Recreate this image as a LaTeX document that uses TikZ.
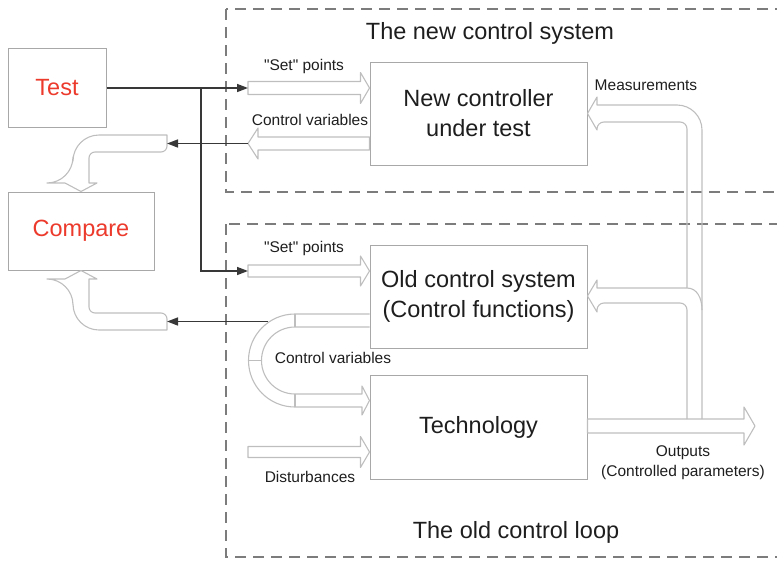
\documentclass[tikz,border=0pt]{standalone}
\usepackage{fontspec}
\setmainfont{Liberation Sans}
% same face without the TeX quote mapping, for straight quotes
\newfontfamily\plainsans{Liberation Sans}
\usetikzlibrary{arrows.meta,calc}

\definecolor{zonegray}{HTML}{7C7C7C}
\definecolor{boxline}{HTML}{A8A8A8}
\definecolor{pipegray}{HTML}{BEBEBE}
\definecolor{wiregray}{HTML}{383838}
\definecolor{ink}{HTML}{1E1E1E}
\definecolor{alert}{HTML}{EC3A2C}

\tikzset{
  block/.style={draw=boxline, line width=1pt, fill=white, inner sep=0pt,
    font=\fontsize{23.5}{30}\selectfont, text=ink, align=center},
  redblock/.style={block, text=alert},
  tag/.style={font=\plainsans\fontsize{15.5}{20}\selectfont, text=ink, inner sep=0pt, align=center},
  heading/.style={font=\fontsize{23.5}{30}\selectfont, text=ink, inner sep=0pt},
  zone/.style={draw=zonegray, line width=2.6pt, dash pattern=on 11pt off 7pt},
  pipe/.style={draw=pipegray, line width=1.1pt, line join=round},
  wire/.style={draw=wiregray, line width=1.5pt, -{Triangle[length=11pt,width=8pt]}},
}

% hollow horizontal arrow: #1 tail, #2 tip, #3 shaft half width,
% #4 head half width, #5 head length
\newcommand\hollowarrow[5]{%
  \draw[pipe] let \p1=(#1), \p2=(#2), \n1={sign(\x2-\x1)} in
    (\x1,\y1+#3pt) -- (\x2-\n1*#5pt,\y1+#3pt) -- (\x2-\n1*#5pt,\y1+#4pt)
    -- (\x2,\y1) -- (\x2-\n1*#5pt,\y1-#4pt) -- (\x2-\n1*#5pt,\y1-#3pt)
    -- (\x1,\y1-#3pt) -- cycle;}

\begin{document}
\begin{tikzpicture}[x=1pt,y=-1pt]
\useasboundingbox (0,0) rectangle (777,560);
\clip (0,0) rectangle (777,560);

% dashed system borders
\draw[zone] (226,9) rectangle (800,192);
\draw[zone] (226,224) rectangle (800,557);
\node[heading] (tnew) at (490,33) {The new control system};
\node[heading] (told) at (516,532) {The old control loop};

% blocks
\node[redblock, minimum width=98, minimum height=79] (test) at (57,87.5) {Test};
\node[redblock, minimum width=146, minimum height=78] (compare) at (81,231) {Compare};
\node[block, minimum width=217, minimum height=103] (newctl) at (478.5,113.5) {New controller\\under test};
\node[block, minimum width=217, minimum height=103] (oldctl) at (478.5,296.5) {Old control system\\(Control functions)};
\node[block, minimum width=217, minimum height=104] (tech) at (478.5,427) {Technology};

% anchor points of the signal arrows
\coordinate (sp1) at (248,88);
\coordinate (cv1) at (248,143.5);
\coordinate (sp2) at (248,271);
\coordinate (dist) at (248,452);
\coordinate (outtip) at (755,426);
\coordinate (split) at (201,88);
\coordinate (cmpin1) at (167,143.5);
\coordinate (cmpin2) at (167,321.5);
\coordinate (ubend) at (268,321.5);

% hollow signal arrows
\hollowarrow{sp1}{newctl.west |- sp1}{6.5}{15.5}{9}
\hollowarrow{newctl.west |- cv1}{cv1}{6.5}{15.5}{10}
\hollowarrow{sp2}{oldctl.west |- sp2}{6}{15}{9}
\hollowarrow{dist}{tech.west |- dist}{5.5}{15.5}{9}
\hollowarrow{tech.east |- outtip}{outtip}{7}{19}{11}

% control variables loop from the old system into the technology
\draw[pipe] (oldctl.west |- 0,314) -- (295,314)
  arc[start angle=270, end angle=90, radius=46.5]
  -- (362,407) -- (362,415) -- (tech.west |- 0,400.5) -- (362,386) -- (362,394)
  -- (295,394) arc[start angle=90, end angle=270, radius=33.5]
  -- (oldctl.west |- 0,327);
\draw[pipe] (295,314) -- (295,327) (295,394) -- (295,407) (248.5,360.5) -- (261.5,360.5);

% measurements fed back from the outputs
\draw[pipe] (687,288) [rounded corners=7] |- (597,122) [sharp corners]
  -- (597,130) -- (newctl.east |- 0,113.5) -- (597,97) -- (597,105)
  [rounded corners=25] -| (702,419);
\draw[pipe] (687,419) [rounded corners=7] |- (597,303) [sharp corners]
  -- (597,312) -- (oldctl.east |- 0,296) -- (597,280) -- (597,288) -- (687,288)
  .. controls (697,288) and (702,298) .. (702,310);

% bent pipes into the comparison
\draw[pipe] (167,135) [rounded corners=26] -| (73,183) [sharp corners]
  -- (65,183) -- (compare.north) -- (97,183) -- (89,183)
  [rounded corners=6] |- (167,152) [sharp corners] -- cycle;
\draw[pipe] (167,330) [rounded corners=26] -| (73,279) [sharp corners]
  -- (65,279) -- (compare.south) -- (97,279) -- (89,279)
  [rounded corners=6] |- (167,313) [sharp corners] -- cycle;

% wires
\draw[wire] (test.east |- sp1) -- (sp1);
\draw[wire] (split) |- (sp2);
\draw[wire] (cv1) -- (cmpin1);
\draw[wire] (ubend) -- (cmpin2);

% labels
\node[tag] (lsp1) at (304,66) {"Set" points};
\node[tag] (lcv1) at (310,120) {Control variables};
\node[tag] (lsp2) at (304,248) {"Set" points};
\node[tag] (lcv2) at (333,358) {Control variables};
\node[tag] (ldist) at (310,477) {Disturbances};
\node[tag] (lout) at (683,463) {Outputs\\(Controlled parameters)};
\node[tag] (lmeas) at (646,85) {Measurements};
\end{tikzpicture}
\end{document}
